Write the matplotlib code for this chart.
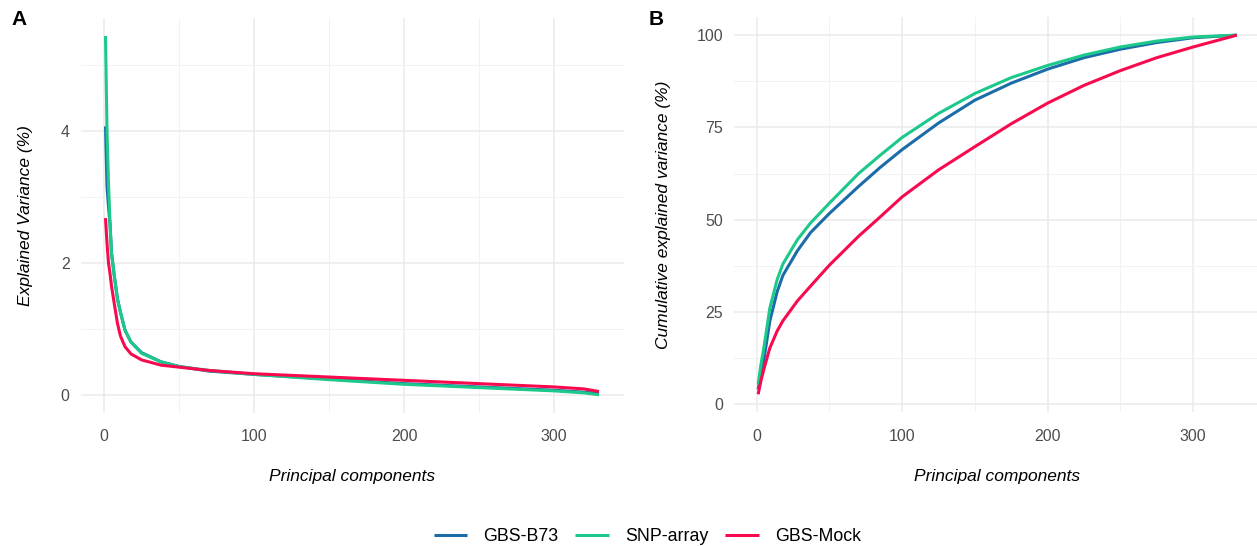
import matplotlib.pyplot as plt
from matplotlib.ticker import MultipleLocator

# ----------------------------
# Panel A: explained variance per PC (%)
# ----------------------------
pcs_a = [1, 2, 3, 4, 5, 7, 9, 11, 14, 18, 25, 38, 50, 70, 100, 150, 200, 250, 300, 320, 330]
b73_a = [4.07, 3.16, 2.85, 2.6, 2.15, 1.78, 1.45, 1.25, 0.98, 0.8, 0.64, 0.5, 0.43, 0.36, 0.31, 0.24, 0.17, 0.12, 0.07, 0.04, 0.02]
snp_a = [5.44, 4.0, 3.2, 2.6, 2.15, 1.78, 1.45, 1.25, 0.98, 0.8, 0.63, 0.5, 0.43, 0.37, 0.31, 0.23, 0.16, 0.11, 0.06, 0.03, 0.0]
mock_a = [2.68, 2.3, 2.0, 1.84, 1.65, 1.36, 1.08, 0.89, 0.73, 0.62, 0.53, 0.45, 0.42, 0.37, 0.32, 0.27, 0.22, 0.17, 0.12, 0.09, 0.05]

# ----------------------------
# Panel B: cumulative explained variance (%)
# ----------------------------
pcs_b = [1, 3, 5, 9, 14, 18, 28, 37, 50, 70, 85, 100, 125, 150, 175, 200, 225, 250, 275, 300, 330]
b73_b = [4.0, 8.5, 12.2, 22.5, 30.4, 34.9, 41.6, 46.5, 51.7, 59.0, 64.2, 69.0, 76.2, 82.4, 87.0, 90.8, 93.9, 96.2, 98.0, 99.3, 100]
snp_b = [5.4, 11.0, 15.5, 26.0, 33.7, 38.0, 44.6, 49.1, 54.5, 62.5, 67.5, 72.3, 78.8, 84.2, 88.5, 91.8, 94.6, 96.8, 98.4, 99.5, 100]
mock_b = [2.7, 6.5, 9.6, 15.2, 19.8, 22.6, 28.0, 32.0, 37.7, 45.5, 50.8, 56.2, 63.5, 69.8, 76.0, 81.6, 86.4, 90.4, 93.9, 96.8, 100]

labels = ["GBS-B73", "SNP-array", "GBS-Mock"]
colors = ["#1B6CA8", "#1DC98A", "#F70A4E"]

plt.rcParams.update({
    "font.family": "Liberation Sans",
    "font.size": 11.5,
})

fig = plt.figure(figsize=(12.57, 5.46), dpi=100)
ax_a = fig.add_axes([0.0643, 0.244, 0.4319, 0.7228])
ax_b = fig.add_axes([0.5841, 0.245, 0.4189, 0.7235])


def style_axis(ax, ymajor):
    for s in ax.spines.values():
        s.set_visible(False)
    ax.xaxis.set_major_locator(MultipleLocator(100))
    ax.xaxis.set_minor_locator(MultipleLocator(50))
    ax.yaxis.set_major_locator(MultipleLocator(ymajor))
    ax.yaxis.set_minor_locator(MultipleLocator(ymajor / 2))
    ax.grid(True, which="major", color="#EBEBEB", linewidth=1.1)
    ax.grid(True, which="minor", color="#F2F2F2", linewidth=0.7)
    ax.set_axisbelow(True)
    ax.tick_params(which="both", length=0, colors="#4D4D4D", labelsize=11.5)
    ax.tick_params(axis="x", pad=12)
    ax.tick_params(axis="y", pad=8)
    ax.set_xlabel("Principal components", style="italic", fontsize=12.5, labelpad=18)


series_a = [b73_a, snp_a, mock_a]
series_b = [b73_b, snp_b, mock_b]
for ys, lab, c in zip(series_a, labels, colors):
    ax_a.plot(pcs_a, ys, color=c, lw=2.2, label=lab, solid_capstyle="butt")
for ys, lab, c in zip(series_b, labels, colors):
    ax_b.plot(pcs_b, ys, color=c, lw=2.2, label=lab, solid_capstyle="butt")

style_axis(ax_a, 2)
style_axis(ax_b, 25)
ax_a.set_ylabel("Explained Variance (%)", style="italic", fontsize=12.5, labelpad=20)
ax_b.set_ylabel("Cumulative explained variance (%)", style="italic", fontsize=12.5, labelpad=18)

fig.text(0.009, 0.955, "A", fontsize=15, fontweight="bold")
fig.text(0.516, 0.955, "B", fontsize=15, fontweight="bold")

handles, labs = ax_a.get_legend_handles_labels()
fig.legend(handles, labs, loc="lower center", bbox_to_anchor=(0.515, -0.028), ncol=3,
           frameon=False, handlelength=1.9, columnspacing=0.95, handletextpad=0.9,
           fontsize=12.8)

fig.savefig("out.png", dpi=100)
